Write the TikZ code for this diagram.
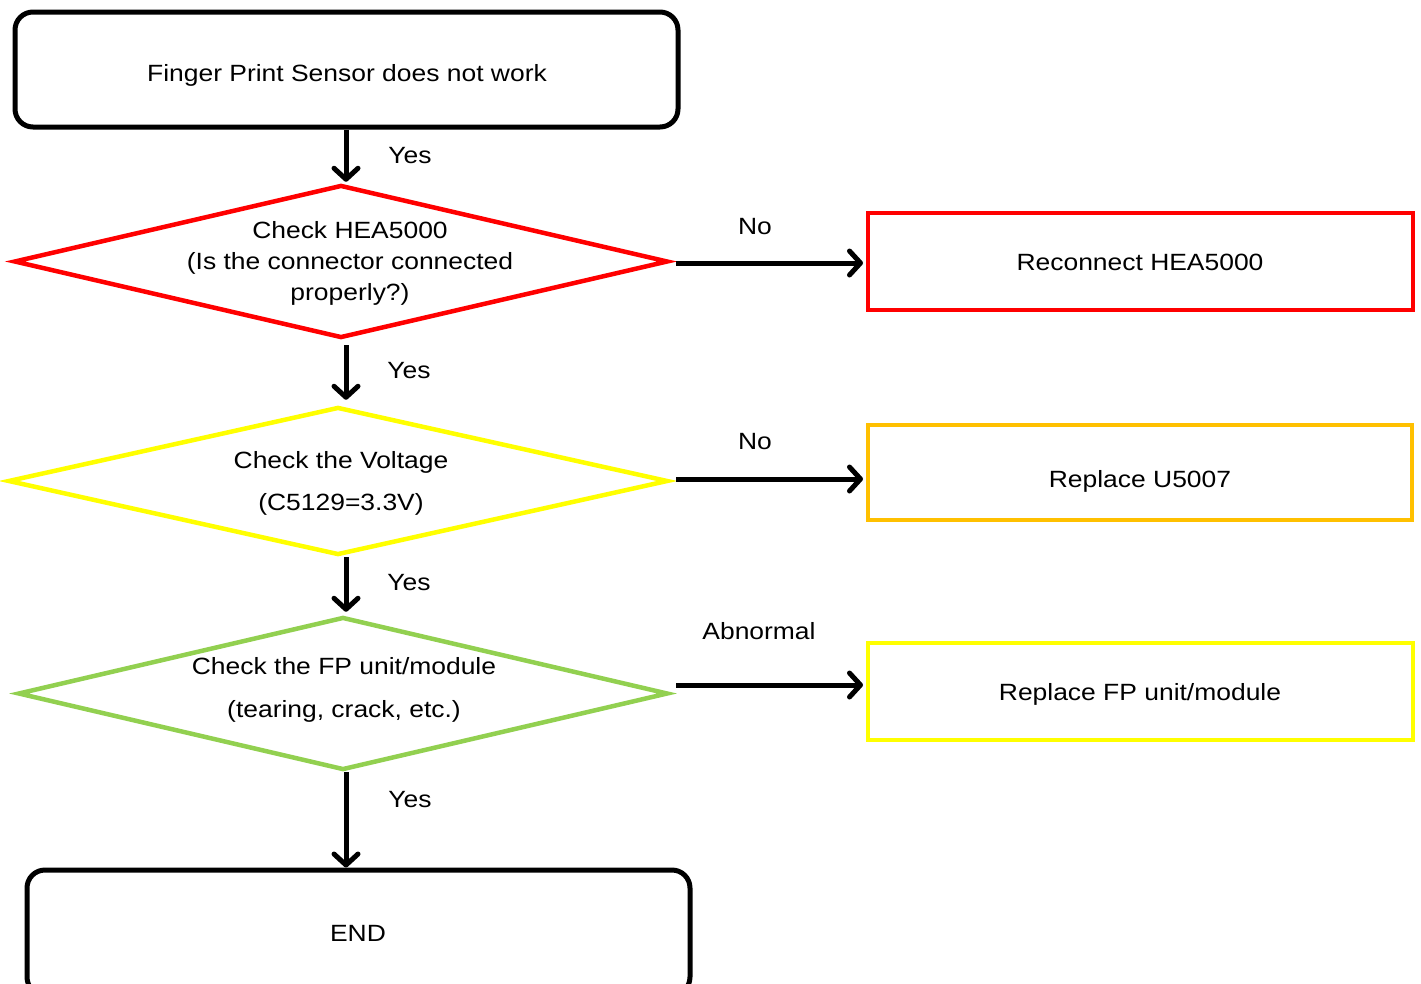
\documentclass[tikz,border=0pt]{standalone}
\usepackage{fontspec}
\setmainfont{Liberation Sans}[FakeStretch=1.125]
\usetikzlibrary{shapes.geometric,arrows.meta}
\definecolor{cRed}{HTML}{FF0000}
\definecolor{cYellow}{HTML}{FFFF00}
\definecolor{cOrange}{HTML}{FFC000}
\definecolor{cGreen}{HTML}{92D050}
\begin{document}
\begin{tikzpicture}[x=1pt,y=-1pt,
  txt/.style={font=\fontsize{23.5}{31}\selectfont, inner sep=0pt, align=center},
  one/.style={txt, text height=16.8pt, text depth=0pt},
  termbox/.style={rectangle, draw=black, line width=5pt, rounded corners=18pt,
    minimum width=663pt, inner sep=0pt},
  decide/.style={diamond, draw=#1, line width=4.5pt, inner sep=0pt, fill=none},
  actbox/.style={rectangle, draw=#1, line width=4pt, inner sep=0pt,
    minimum width=545pt, minimum height=97pt},
  arr/.style={line width=5pt, -{Straight Barb[length=11pt,width=24pt,round]}},
]
\useasboundingbox (0,0) rectangle (1421,983);
\clip (0,0) rectangle (1421,983);

% terminal boxes
\node[termbox, minimum height=115pt] (start) at (346.5,69.5) {};
\node[one] (tstart) at (347,73) {Finger Print Sensor does not work};
\node[termbox, minimum height=125pt] (end) at (358.5,932.5) {};
\node[one] (tend) at (358,933) {END};

% decisions
\node[decide=cRed, minimum width=654pt, minimum height=153pt] (d1) at (341,261.5) {};
\node[txt] (td1) at (350,263.3) {Check HEA5000\\(Is the connector connected\\properly?)};
\node[decide=cYellow, minimum width=660pt, minimum height=148pt] (d2) at (338,481) {};
\node[txt] (td2) at (341,483.3) {Check the Voltage\\[11pt](C5129=3.3V)};
\node[decide=cGreen, minimum width=650pt, minimum height=153pt] (d3) at (343,693.5) {};
\node[txt] (td3) at (344,690.3) {Check the FP unit/module\\[12pt](tearing, crack, etc.)};

% actions
\node[actbox=cRed] (r1) at (1140.5,261.5) {};
\node[one] (tr1) at (1140,262) {Reconnect HEA5000};
\node[actbox=cOrange, minimum width=544pt, minimum height=95pt] (r2) at (1140,472.5) {};
\node[one] (tr2) at (1140,479) {Replace U5007};
\node[actbox=cYellow] (r3) at (1140.5,691.5) {};
\node[one] (tr3) at (1140,692) {Replace FP unit/module};

% vertical connectors
\coordinate (a1s) at (346,127);
\draw[arr] (start.south -| a1s) -- ([yshift=1pt]d1.north -| a1s);
\draw[arr] ([yshift=-5pt]d1.south -| a1s) -- ([yshift=5pt]d2.north -| a1s);
\draw[arr] (d2.south -| a1s) -- ([yshift=3pt]d3.north -| a1s);
\draw[arr] (d3.south -| a1s) -- (end.north -| a1s);

% horizontal connectors
\draw[arr] ([xshift=6pt,yshift=-1.5pt]d1.east) -- ([xshift=-3pt,yshift=-1.5pt]r1.west |- d1.east);
\draw[arr] ([xshift=6pt,yshift=2pt]d2.east) -- ([xshift=-3pt,yshift=2pt]r2.west |- d2.east);
\draw[arr] ([xshift=6pt,yshift=8.5pt]d3.east) -- ([xshift=-3pt,yshift=8.5pt]r3.west |- d3.east);

% labels
\node[one] (y1) at (410,155) {Yes};
\node[one] (y2) at (409,370) {Yes};
\node[one] (y3) at (409,582) {Yes};
\node[one] (y4) at (410,799) {Yes};
\node[one] (n1) at (755,226) {No};
\node[one] (n2) at (755,441) {No};
\node[one] (ab) at (759,631) {Abnormal};
\end{tikzpicture}
\end{document}
